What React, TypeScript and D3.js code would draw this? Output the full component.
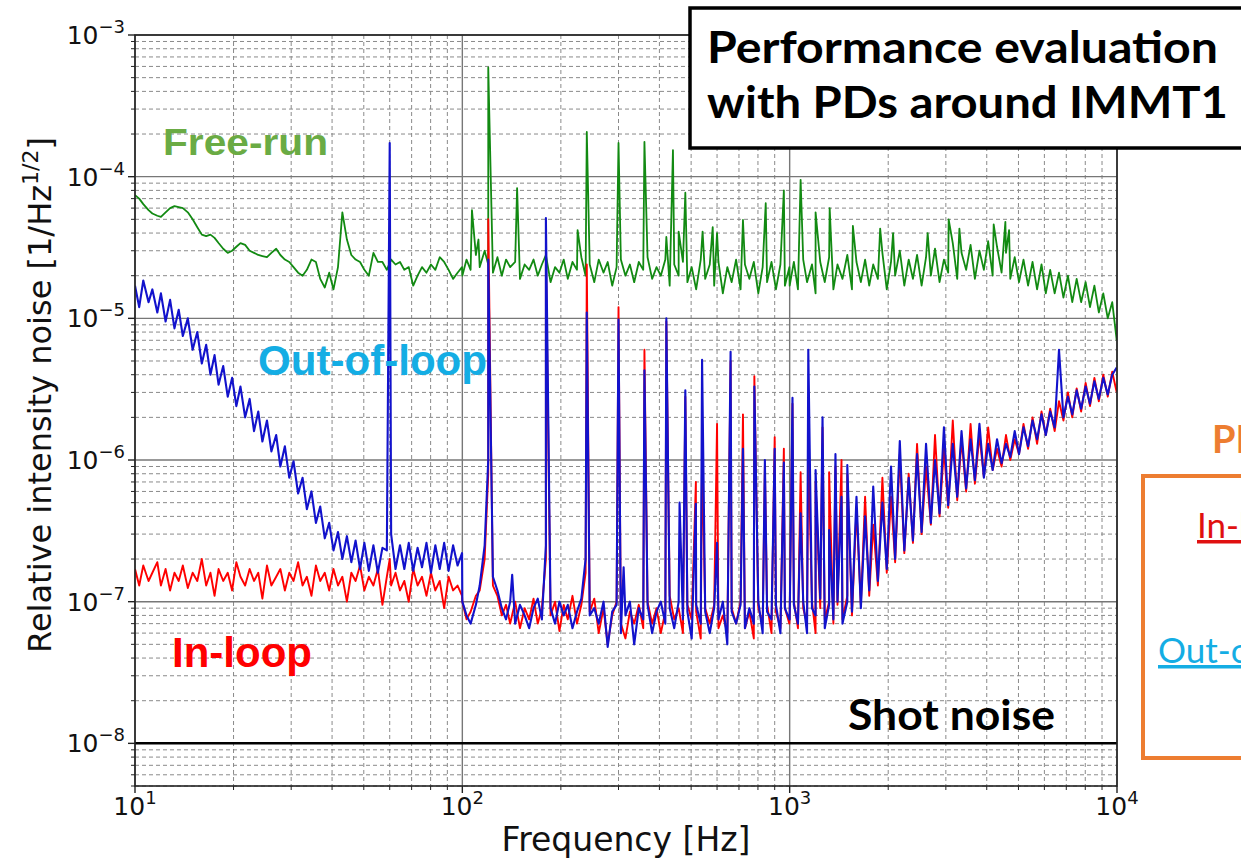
import React from 'react';
import * as d3 from 'd3';

const W = 1241;
const H = 859;
const PLOT = { left: 135, right: 1117, top: 35, bottom: 786 };

// Frequency bins [Hz]
const FREQ = [
  10, 10.3, 10.6, 11, 11.3, 11.7, 12, 12.4, 12.8, 13.2, 13.6, 14, 14.5, 15, 15.5, 16, 16.5, 17, 17.5, 18, 18.6, 19.2, 19.8, 20.4, 21, 21.7, 22.4, 23.1, 23.8, 24.5, 25.3, 26.1, 27, 27.8, 28.7, 29.6, 30.5, 31.5, 32.5, 33.5, 34.6, 35.7, 36.8, 38, 39.2, 40.4, 41.7, 43, 44.4, 45.8, 47.2, 48.7, 50.2, 51.8, 53.5, 55.2, 57, 58.8, 60.6, 62.5, 64.5, 66.5, 68.6, 70.8, 73, 75.3, 77.7, 80.2, 82.7, 85.3, 88, 90.8, 93.7, 96.7, 99.8,
  100, 103, 106, 110, 113, 117, 120, 124, 128, 132, 136, 140, 145, 150, 155, 160, 165, 170, 175, 180, 186, 192, 198, 204, 210, 217, 224, 231, 238, 245, 253, 261, 270, 278, 287, 296, 305, 315, 325, 335, 346, 357, 368, 380, 392, 404, 417, 430, 444, 458, 472, 487, 502, 518, 535, 552, 570, 588, 606, 625, 645, 665, 686, 708, 730, 753, 777, 802, 827, 853, 880, 908, 937, 967, 998,
  1000, 1030, 1060, 1100, 1130, 1170, 1200, 1240, 1280, 1320, 1360, 1400, 1450, 1500, 1550, 1600, 1650, 1700, 1750, 1800, 1860, 1920, 1980, 2040, 2100, 2170, 2240, 2310, 2380, 2450, 2530, 2610, 2700, 2780, 2870, 2960, 3050, 3150, 3250, 3350, 3460, 3570, 3680, 3800, 3920, 4040, 4170, 4300, 4440, 4580, 4720, 4870, 5020, 5180, 5350, 5520, 5700, 5880, 6060, 6250, 6450, 6650, 6860, 7080, 7300, 7530, 7770, 8020, 8270, 8530, 8800, 9080, 9370, 9670, 9980,
];

// In-loop RIN, in units of 1e-7 /Hz^1/2
const IN_LOOP = [
  1.7, 1.3, 1.8, 1.4, 1.6, 1.9, 1.3, 1.7, 1.2, 1.6, 1.4, 1.8, 1.25, 1.6, 1.4, 2.0, 1.3, 1.6, 1.1, 1.7, 1.4, 1.6, 1.2, 1.9, 1.5, 1.3, 1.7, 1.4, 1.6, 1.05, 1.8, 1.3, 1.5, 1.7, 1.2, 1.6, 1.4, 1.9, 1.3, 1.5, 1.1, 1.8, 1.4, 1.6, 1.2, 1.7, 1.3, 1.5, 1.0, 1.6, 1.4, 1.8, 1.2, 1.5, 1.3, 1.7, 0.95, 1.5, 1.3, 1.6, 1.2, 1.4, 1.0, 1.7, 1.3, 1.5, 1.1, 1.6, 1.2, 1.4, 0.9, 1.5, 1.2, 1.3, 1.1,
  1.0, 0.75, 0.85, 1.1, 1.2, 2.0, 8, 1.3, 1.1, 0.8, 0.95, 0.7, 1.0, 0.65, 0.9, 0.75, 1.05, 0.7, 0.9, 2.0, 0.8, 1.0, 0.62, 0.95, 0.75, 1.1, 0.7, 0.95, 1.6, 0.85, 1.05, 0.6, 0.9, 0.5, 0.8, 1.0, 0.7, 0.55, 0.85, 0.7, 0.95, 0.65, 1.0, 0.7, 0.9, 0.6, 0.85, 1.1, 0.75, 0.9, 0.6, 0.95, 0.75, 0.85, 0.55, 0.9, 0.7, 0.95, 0.65, 0.8, 0.6, 0.9, 0.7, 1.0, 0.65, 0.85, 0.55, 0.9, 0.7, 0.95, 0.6, 0.85, 0.65, 0.9, 0.7,
  0.8, 1.0, 0.65, 0.9, 0.7, 1.0, 0.6, 0.9, 0.75, 1.0, 0.7, 0.95, 0.75, 1.1, 0.8, 4.5, 0.95, 5.5, 1.1, 3.5, 1.3, 7.5, 1.6, 5.5, 1.9, 11, 2.2, 8, 2.6, 13, 3.0, 9, 3.5, 15, 4.0, 12, 4.6, 19, 5.2, 14, 6.0, 18, 6.8, 15, 7.6, 17, 8.5, 12, 9.0, 15, 10, 14, 11, 18, 12, 20, 13, 22, 15, 23, 16, 26, 19, 30, 20, 32, 22, 35, 24, 38, 26, 40, 28, 42, 30,
];

// Out-of-loop RIN, in units of 1e-7 /Hz^1/2
const OUT_OF_LOOP = [
  170, 120, 185, 130, 160, 110, 150, 95, 135, 85, 115, 75, 100, 60, 80, 48, 65, 40, 55, 34, 46, 28, 38, 24, 33, 20, 27, 16, 22, 13.5, 19, 11.5, 15, 9, 12.5, 7.5, 9.8, 5.8, 7.5, 4.5, 6, 3.6, 4.7, 2.8, 3.6, 2.3, 3.1, 2.0, 2.9, 1.9, 2.7, 1.7, 2.6, 1.65, 2.5, 1.6, 2.4, 2.3, 3.0, 1.7, 2.5, 1.7, 2.6, 1.65, 2.4, 1.75, 2.6, 1.6, 2.5, 1.7, 2.6, 1.65, 2.5, 1.8, 2.2,
  1.0, 0.8, 0.7, 0.95, 1.3, 2.5, 10, 1.5, 1.2, 0.9, 0.75, 1.0, 0.7, 0.95, 0.8, 0.65, 0.9, 1.05, 0.75, 2.5, 0.9, 0.7, 1.0, 0.8, 0.95, 0.65, 0.85, 1.05, 2.0, 0.8, 0.9, 0.7, 1.0, 0.48, 0.85, 0.95, 0.6, 0.8, 1.0, 0.5, 0.9, 0.75, 0.95, 0.6, 0.85, 1.0, 0.7, 0.9, 0.65, 1.0, 0.75, 0.85, 0.55, 0.95, 0.7, 0.85, 0.6, 0.9, 0.75, 1.0, 0.5, 0.85, 0.7, 0.95, 0.65, 0.9, 0.7, 1.0, 0.6, 0.85, 0.75, 0.95, 0.6, 0.9, 0.75,
  0.75, 0.95, 0.7, 1.0, 0.6, 0.9, 0.8, 1.05, 0.65, 0.95, 0.75, 1.0, 0.7, 1.0, 0.85, 5.5, 0.9, 4.0, 1.2, 6.5, 1.4, 5.0, 1.7, 9, 2.0, 13.6, 2.3, 7.5, 2.7, 11, 3.1, 13, 3.6, 10, 4.2, 17, 4.8, 13, 5.5, 16, 6.3, 14, 7.2, 18, 7.5, 13, 8.5, 14, 9.5, 13, 10.5, 16, 11, 17, 12.5, 19, 14, 21, 15, 22, 17, 60, 20, 28, 21, 31, 23, 33, 25, 36, 27, 38, 29, 40, 45,
];

// Free-run RIN, in units of 1e-5 /Hz^1/2
const FREE_RUN = [
  7.4, 7.0, 6.4, 5.8, 5.5, 5.3, 5.2, 5.6, 6.0, 6.2, 6.1, 6.0, 5.6, 5.0, 4.4, 3.9, 3.8, 3.9, 3.7, 3.4, 3.1, 2.9, 3.0, 3.2, 3.4, 3.3, 3.0, 2.9, 2.8, 2.75, 2.7, 2.9, 3.1, 2.8, 2.6, 2.5, 2.3, 2.1, 2.0, 2.2, 2.6, 2.5, 1.9, 1.65, 2.1, 1.6, 2.3, 5.6, 3.6, 2.8, 2.6, 2.5, 2.2, 2.0, 2.9, 2.5, 2.5, 2.2, 2.6, 2.4, 2.5, 2.2, 2.3, 1.7, 2.0, 2.3, 2.1, 2.4, 2.2, 2.7, 2.5, 2.2, 1.9, 2.1, 2.3,
  2.0, 2.6, 2.2, 2.8, 2.3, 3.0, 2.4, 2.1, 2.7, 2.0, 2.6, 2.3, 2.5, 1.9, 2.4, 2.2, 2.6, 2.0, 2.4, 2.8, 1.8, 2.3, 2.1, 2.6, 1.9, 2.5, 2.2, 2.7, 2.0, 2.4, 1.8, 2.6, 2.1, 2.5, 1.7, 2.3, 2.6, 2.0, 2.4, 1.8, 2.5, 2.2, 2.7, 1.9, 2.3, 2.0, 2.6, 1.7, 2.4, 2.0, 2.5, 1.8, 2.3, 1.6, 2.6, 1.9, 2.4, 1.7, 2.5, 1.5, 2.3, 1.8, 2.6, 1.6, 2.4, 1.9, 2.5, 1.5, 2.3, 1.8, 2.5, 1.6, 2.4, 1.7, 2.3,
  1.7, 2.5, 1.6, 2.6, 1.8, 2.4, 1.5, 2.5, 1.8, 2.7, 1.6, 2.4, 1.9, 2.8, 1.6, 2.5, 1.8, 2.6, 1.7, 2.4, 1.9, 2.9, 1.6, 2.5, 2.0, 3.0, 1.7, 2.6, 1.9, 2.8, 1.7, 2.7, 2.0, 3.1, 1.8, 2.6, 2.1, 3.4, 1.9, 2.9, 2.2, 3.3, 1.9, 3.0, 2.2, 3.5, 2.0, 3.2, 2.1, 2.9, 1.9, 2.7, 1.8, 2.6, 1.7, 2.5, 1.6, 2.4, 1.5, 2.2, 1.5, 2.1, 1.4, 2.0, 1.3, 1.9, 1.3, 1.8, 1.2, 1.7, 1.1, 1.5, 1.0, 1.3, 0.7,
];

// Power-line harmonics [Hz] and their peak heights (units of 1e-7)
const HARMONICS = [60, 120, 180, 240, 300, 360, 420, 480, 540, 600, 660, 720, 780, 840, 900, 960, 1020, 1080, 1140, 1200, 1260, 1320, 1380, 1440, 1500];
const IN_LOOP_LINES = [2.0, 500, 300, 240, 120, 60, 95, 28, 11, 18, 50, 21, 39, 9, 14.5, 12, 25, 8.2, 12, 7, 17, 8.2, 9, 10, 8];
const OUT_OF_LOOP_LINES = [1730, 260, 510, 110, 98, 43, 100, 31, 51, 2.6, 58, 12, 33, 10, 12, 9.6, 27.5, 4.2, 60, 8.5, 20, 3.2, 11, 5.5, 9.2];
const IN_LOOP_EXTRA_FREQ = [517];
const IN_LOOP_EXTRA = [7.0];
const OUT_OF_LOOP_EXTRA_FREQ = [142, 311, 461, 517];
const OUT_OF_LOOP_EXTRA = [1.55, 1.75, 5.0, 4.9];

// Free-run spectral lines [Hz] and heights (units of 1e-5)
const FREE_RUN_LINE_FREQ = [107, 112, 120, 147, 225, 240, 300, 360, 420, 440, 458, 480, 542, 582, 600, 720, 845, 960, 1080, 1200, 1325, 1560, 1890, 2070, 2640, 3060, 3300, 4200, 4560, 4680];
const FREE_RUN_LINES = [5.8, 3.6, 59, 8.3, 4.2, 20.7, 17.3, 17.6, 3.75, 15.4, 4.1, 7.7, 4.1, 4.4, 4.0, 4.95, 6.5, 8.0, 9.5, 5.6, 6.0, 4.5, 4.3, 4.0, 4.0, 5.0, 4.3, 4.6, 4.8, 4.2];

const SHOT_NOISE = 1e-8;
const X_DOMAIN = [10, 1e4];
const Y_DOMAIN = [5e-9, 1e-3];
const X_TICK_EXP = [1, 2, 3, 4];
const Y_TICK_EXP = [-3, -4, -5, -6, -7, -8];

function buildSeries(vals: number[], unit: number, lineF: number[][], lineV: number[][]) {
  const pts: [number, number][] = FREQ.map((f, i) => [f, vals[i] * unit]);
  lineF.forEach((fs, k) => fs.forEach((f, i) => pts.push([f, lineV[k][i] * unit])));
  return pts.sort((a, b) => a[0] - b[0]);
}

export default function App() {
  const x = d3.scaleLog().domain(X_DOMAIN).range([PLOT.left, PLOT.right]);
  const y = d3.scaleLog().domain(Y_DOMAIN).range([PLOT.bottom, PLOT.top]);
  const line = d3.line<[number, number]>().x((d) => x(d[0])).y((d) => y(d[1]));

  const red = buildSeries(IN_LOOP, 1e-7, [HARMONICS, IN_LOOP_EXTRA_FREQ], [IN_LOOP_LINES, IN_LOOP_EXTRA]);
  const blue = buildSeries(OUT_OF_LOOP, 1e-7, [HARMONICS, OUT_OF_LOOP_EXTRA_FREQ], [OUT_OF_LOOP_LINES, OUT_OF_LOOP_EXTRA]);
  const green = buildSeries(FREE_RUN, 1e-5, [FREE_RUN_LINE_FREQ], [FREE_RUN_LINES]);

  const xTicks = x.ticks();
  const yTicks = y.ticks();
  const isMajor = (v: number) => Math.abs(Math.log10(v) - Math.round(Math.log10(v))) < 1e-6;
  const xMinor = xTicks.filter((t) => !isMajor(t));
  const yMinor = yTicks.filter((t) => !isMajor(t));
  const xMajor = X_TICK_EXP.map((e) => Math.pow(10, e));
  const yMajor = Y_TICK_EXP.map((e) => Math.pow(10, e));

  const tickFont = 'DejaVu Sans, sans-serif';
  const gridColor = '#8a8a8a';

  return (
    <svg width={W} height={H} style={{ position: 'absolute', left: 0, top: 0, background: '#fff' }}>
      <defs>
        <clipPath id="plotClip">
          <rect x={PLOT.left} y={PLOT.top} width={PLOT.right - PLOT.left} height={PLOT.bottom - PLOT.top} />
        </clipPath>
      </defs>
      <rect x={0} y={0} width={W} height={H} fill="#fff" />

      {/* minor grid */}
      {xMinor.map((t, i) => (
        <line key={'xm' + i} x1={x(t)} x2={x(t)} y1={PLOT.top} y2={PLOT.bottom} stroke={gridColor} strokeWidth={1} strokeDasharray="4 3" />
      ))}
      {yMinor.map((t, i) => (
        <line key={'ym' + i} x1={PLOT.left} x2={PLOT.right} y1={y(t)} y2={y(t)} stroke={gridColor} strokeWidth={1} strokeDasharray="4 3" />
      ))}
      {/* major grid */}
      {xMajor.map((t, i) => (
        <line key={'xM' + i} x1={x(t)} x2={x(t)} y1={PLOT.top} y2={PLOT.bottom} stroke="#777" strokeWidth={1.4} />
      ))}
      {yMajor.map((t, i) => (
        <line key={'yM' + i} x1={PLOT.left} x2={PLOT.right} y1={y(t)} y2={y(t)} stroke="#777" strokeWidth={1.4} />
      ))}

      {/* shot noise */}
      <line x1={PLOT.left} x2={PLOT.right} y1={y(SHOT_NOISE)} y2={y(SHOT_NOISE)} stroke="#000" strokeWidth={2.5} />

      <g clipPath="url(#plotClip)" fill="none" strokeLinejoin="round">
        <path d={line(green) || ''} stroke="#128a12" strokeWidth={1.8} />
        <path d={line(red) || ''} stroke="#ff0000" strokeWidth={1.9} />
        <path d={line(blue) || ''} stroke="#1212cc" strokeWidth={2.1} />
      </g>

      {/* frame */}
      <rect x={PLOT.left} y={PLOT.top} width={PLOT.right - PLOT.left} height={PLOT.bottom - PLOT.top} fill="none" stroke="#222" strokeWidth={1.6} />

      {/* ticks */}
      {xMinor.map((t, i) => (
        <line key={'xt' + i} x1={x(t)} x2={x(t)} y1={PLOT.bottom} y2={PLOT.bottom + 4} stroke="#222" strokeWidth={1} />
      ))}
      {xMajor.map((t, i) => (
        <line key={'xT' + i} x1={x(t)} x2={x(t)} y1={PLOT.bottom} y2={PLOT.bottom + 7} stroke="#222" strokeWidth={1.4} />
      ))}
      {yMinor.map((t, i) => (
        <line key={'yt' + i} x1={PLOT.left - 4} x2={PLOT.left} y1={y(t)} y2={y(t)} stroke="#222" strokeWidth={1} />
      ))}
      {yMajor.map((t, i) => (
        <line key={'yT' + i} x1={PLOT.left - 7} x2={PLOT.left} y1={y(t)} y2={y(t)} stroke="#222" strokeWidth={1.4} />
      ))}

      {/* tick labels */}
      {X_TICK_EXP.map((e) => (
        <text key={'xl' + e} x={x(Math.pow(10, e))} y={815} textAnchor="middle" fontFamily={tickFont} fontSize={25} fill="#111">
          10<tspan dy={-11} fontSize={18}>{String(e)}</tspan>
        </text>
      ))}
      {Y_TICK_EXP.map((e) => (
        <text key={'yl' + e} x={125} y={y(Math.pow(10, e)) + 9} textAnchor="end" fontFamily={tickFont} fontSize={25} fill="#111">
          10<tspan dy={-11} fontSize={18}>{'\u2212' + String(-e)}</tspan>
        </text>
      ))}

      {/* axis labels */}
      <text x={(PLOT.left + PLOT.right) / 2} y={851} textAnchor="middle" fontFamily={tickFont} fontSize={33} fill="#111">
        Frequency [Hz]
      </text>
      <text transform="translate(51,395) rotate(-90)" textAnchor="middle" fontFamily={tickFont} fontSize={32} fill="#111">
        Relative intensity noise [1/Hz<tspan dy={-13} fontSize={22}>1/2</tspan><tspan dy={13}>]</tspan>
      </text>

      {/* curve annotations */}
      <text x={163} y={155} fontFamily="Liberation Sans, Arial, sans-serif" fontWeight="bold" fontSize={37} fill="#6aab44" textLength={165} lengthAdjust="spacingAndGlyphs">Free-run</text>
      <text x={258} y={375} fontFamily="Liberation Sans, Arial, sans-serif" fontWeight="bold" fontSize={42} fill="#14ade4" textLength={229} lengthAdjust="spacingAndGlyphs">Out-of-loop</text>
      <text x={172} y={667} fontFamily="Liberation Sans, Arial, sans-serif" fontWeight="bold" fontSize={42} fill="#ff0000" textLength={140} lengthAdjust="spacingAndGlyphs">In-loop</text>
      <text x={848} y={730} fontFamily="Lato, sans-serif" fontWeight="bold" fontSize={42} fill="#000" textLength={207} lengthAdjust="spacingAndGlyphs">Shot noise</text>

      {/* title box */}
      <rect x={690} y={8} width={600} height={140} fill="#fff" stroke="#000" strokeWidth={3.5} />
      <text x={707} y={63} fontFamily="Lato, sans-serif" fontWeight="bold" fontSize={44} fill="#000" textLength={511} lengthAdjust="spacingAndGlyphs">Performance evaluation</text>
      <text x={707} y={118} fontFamily="Lato, sans-serif" fontWeight="bold" fontSize={44} fill="#000" textLength={521} lengthAdjust="spacingAndGlyphs">with PDs around IMMT1</text>

      {/* right-hand slide fragment (cut by the picture edge, as in the reference) */}
      <text x={1212} y={453} fontFamily="Lato, sans-serif" fontWeight="bold" fontSize={38} fill="#ed7d31">PD</text>
      <rect x={1143} y={476} width={200} height={282} fill="none" stroke="#ed7d31" strokeWidth={4} />
      <text x={1197} y={538} fontFamily="Lato, sans-serif" fontSize={35} fill="#e01010" textDecoration="underline">In-loop</text>
      <text x={1158} y={663} fontFamily="Lato, sans-serif" fontSize={35} fill="#14ade4" textDecoration="underline">Out-of-loop</text>
    </svg>
  );
}
